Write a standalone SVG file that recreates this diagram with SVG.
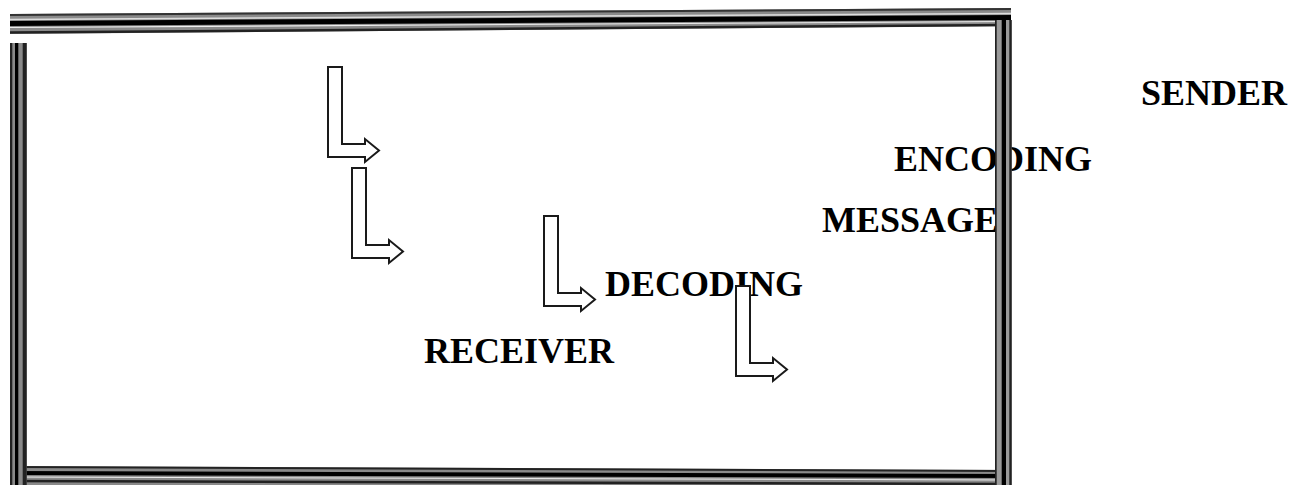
<svg xmlns="http://www.w3.org/2000/svg" width="1299" height="485" viewBox="0 0 1299 485">
<style>
.lbl{font-family:"Liberation Serif","Times New Roman",serif;font-weight:bold;font-size:36px;fill:#000}
.arr{fill:#fff;stroke:#1a1a1a;stroke-width:2;stroke-linejoin:miter}
</style>
<defs>
<path id="bent" d="M0,0 H14 V77 H37 V72 L51,83.5 L37,95 V90 H0 Z"/>
</defs>
<rect width="1299" height="485" fill="#fff"/>
<g id="sender"><text class="lbl" x="1141" y="105">SENDER</text></g>
<g id="encoding"><text class="lbl" x="894" y="171">ENCODING</text></g>
<g id="message"><text class="lbl" x="822" y="232">MESSAGE</text></g>
<g id="decoding"><text class="lbl" x="605" y="296">DECODING</text></g>
<g id="receiver"><text class="lbl" x="424" y="363">RECEIVER</text></g>
<g id="connectors">
<use href="#bent" class="arr" transform="translate(328,67)"/>
<use href="#bent" class="arr" transform="translate(352,168)"/>
<use href="#bent" class="arr" transform="translate(544,216)"/>
<use href="#bent" class="arr" transform="translate(736,286)"/>
</g>
<g id="frame">
<g id="top-border">
<polygon points="10,14 1011,8 1011,26 10,34" fill="#8a8a8a"/>
<line x1="10" y1="15" x2="1011" y2="9" stroke="#333" stroke-width="2"/>
<line x1="10" y1="19.5" x2="1011" y2="13.5" stroke="#ddd" stroke-width="1.5"/>
<line x1="10" y1="23.5" x2="1011" y2="17.5" stroke="#000" stroke-width="5"/>
<line x1="10" y1="27.5" x2="1011" y2="21.5" stroke="#eee" stroke-width="1.2"/>
<line x1="10" y1="32.5" x2="1011" y2="25" stroke="#222" stroke-width="2.5"/>
</g>
<g id="bottom-border">
<polygon points="10,466 1011,470 1011,485 10,485" fill="#8a8a8a"/>
<line x1="10" y1="467" x2="1011" y2="471" stroke="#222" stroke-width="2"/>
<line x1="10" y1="473" x2="1011" y2="476" stroke="#000" stroke-width="4"/>
<line x1="10" y1="477" x2="1011" y2="480" stroke="#eee" stroke-width="1.2"/>
<line x1="10" y1="481" x2="1011" y2="484" stroke="#222" stroke-width="2.5"/>
</g>
<g id="left-border">
<rect x="10" y="43" width="16.7" height="442" fill="#8a8a8a"/>
<rect x="10" y="43" width="2.3" height="442" fill="#222"/>
<rect x="15" y="43" width="3.3" height="442" fill="#000"/>
<rect x="22.7" y="43" width="4" height="442" fill="#222"/>
</g>
<g id="right-border">
<rect x="995" y="20" width="16.7" height="465" fill="#9a9a9a"/>
<rect x="995" y="20" width="1.7" height="465" fill="#222"/>
<rect x="1001.7" y="20" width="4.3" height="465" fill="#000"/>
<rect x="1009.3" y="20" width="2.4" height="465" fill="#222"/>
</g>
</g>
</svg>
